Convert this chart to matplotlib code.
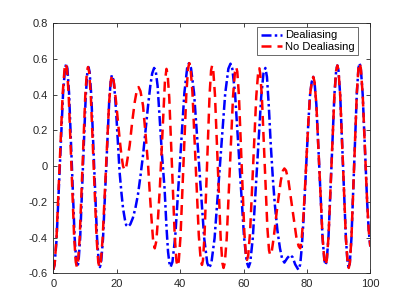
import matplotlib
matplotlib.use("Agg")
import matplotlib.pyplot as plt

plt.rcParams['font.family'] = ['Liberation Sans', 'DejaVu Sans']

# Dealiasing (blue, dash-dot)
blue_x = [0, 0.41, 1.03, 2.05, 3.08, 3.69, 4.1,
          4.45, 4.98, 5.85, 6.73, 7.25, 7.6,
          7.95, 8.48, 9.35, 10.23, 10.75, 11.1,
          11.46, 12.0, 12.9, 13.8, 14.34, 14.7,
          15.09, 15.68, 16.65, 17.63, 18.15, 18.5,
          19.0, 19.5, 20.0, 20.5, 20.9, 21.5, 22.0, 22.6, 23.0, 23.6,
          24.3, 25.1, 25.9, 26.7, 27.5, 28.3, 29.1, 29.9, 30.6, 31.2, 31.8,
          32.3, 32.9, 33.6, 34.3, 35.1, 35.7, 36.2, 36.6, 37.0,
          37.58, 38.45, 39.9, 41.35, 42.22, 42.8,
          43.44, 44.4, 46.0, 47.6, 48.56, 49.2,
          49.87, 50.88, 52.55, 54.23, 55.23, 55.9,
          56.47, 57.33, 58.75, 60.18, 61.03, 61.6,
          62.13, 62.93, 64.25, 65.58, 66.3, 66.9,
          67.4, 68.0, 68.6, 69.3, 69.9, 70.7, 71.5, 72.2, 72.9,
          73.8, 74.7, 75.5, 76.3, 77.3,
          77.9, 78.4, 78.9, 79.4, 79.9, 80.5, 81.0, 81.5, 82.0,
          82.39, 82.98, 83.95, 84.93, 85.51, 85.9,
          86.27, 86.83, 87.75, 88.68, 89.23, 89.6,
          89.96, 90.5, 91.4, 92.3, 92.84, 93.2,
          93.54, 94.05, 94.9, 95.75, 96.26, 96.6,
          97.0, 97.6, 98.3, 99.0, 99.5, 100]
blue_y = [-0.58, -0.552, -0.412, -0.003, 0.406, 0.546, 0.574,
          0.546, 0.408, 0.004, -0.399, -0.537, -0.565,
          -0.538, -0.401, -0.005, 0.391, 0.528, 0.555,
          0.528, 0.391, -0.005, -0.401, -0.538, -0.565,
          -0.538, -0.407, -0.025, 0.36, 0.485, 0.51,
          0.48, 0.39, 0.25, 0.10, -0.03, -0.15, -0.236, -0.30, -0.33, -0.34,
          -0.325, -0.29, -0.235, -0.16, -0.055, 0.06, 0.20, 0.34, 0.45, 0.52, 0.55,
          0.535, 0.45, 0.25, 0.06, -0.125, -0.34, -0.48, -0.54, -0.565,
          -0.537, -0.398, 0.006, 0.41, 0.549, 0.577,
          0.549, 0.41, 0.003, -0.403, -0.542, -0.57,
          -0.542, -0.403, 0.002, 0.407, 0.546, 0.574,
          0.546, 0.408, 0.004, -0.40, -0.538, -0.566,
          -0.539, -0.403, -0.008, 0.387, 0.52, 0.55,
          0.50, 0.33, 0.12, -0.08, -0.218, -0.36, -0.46, -0.52, -0.54,
          -0.515, -0.497, -0.51, -0.55, -0.58,
          -0.55, -0.45, -0.31, -0.13, 0.06, 0.26, 0.40, 0.47, 0.50,
          0.474, 0.346, -0.027, -0.399, -0.527, -0.553,
          -0.526, -0.39, 0.006, 0.401, 0.537, 0.564,
          0.536, 0.398, -0.003, -0.404, -0.542, -0.57,
          -0.542, -0.403, 0.004, 0.41, 0.549, 0.577,
          0.55, 0.40, 0.10, -0.20, -0.36, -0.45]

# No Dealiasing (red, dashed)
red_x = [0, 0.4, 0.99, 1.98, 2.96, 3.56, 3.95,
         4.3, 4.83, 5.7, 6.58, 7.1, 7.45,
         7.8, 8.33, 9.2, 10.08, 10.6, 10.95,
         11.31, 11.85, 12.75, 13.65, 14.19, 14.55,
         14.96, 15.56, 16.58, 17.59, 18.2, 18.6,
         19.2, 19.8, 20.4, 21.0, 21.5, 22.0, 22.5, 23.0, 23.5, 24.1,
         24.9, 25.7, 26.3, 26.9, 27.5, 28.3, 29.1, 29.9, 30.4, 30.9,
         31.5, 32.0, 32.5, 33.0, 33.6, 34.1, 34.6, 35.2, 35.7,
         36.05, 36.58, 37.45, 38.33, 38.85, 39.2,
         39.57, 40.13, 41.05, 41.98, 42.53, 42.9,
         43.3, 43.9, 44.9, 45.9, 46.5, 46.9,
         47.22, 47.7, 48.5, 49.3, 49.78, 50.1,
         50.46, 51.0, 51.9, 52.8, 53.34, 53.7,
         54.1, 54.7, 55.7, 56.7, 57.3, 57.7,
         58.04, 58.55, 59.4, 60.25, 60.76, 61.1,
         61.49, 62.08, 63.05, 64.03, 64.61, 65.0,
         65.25, 65.78, 66.65, 67.53, 68.05, 68.4,
         68.85, 69.53, 70.65, 71.78, 72.45, 72.9,
         73.4, 74.15, 75.4, 76.65, 77.4, 77.9,
         78.3, 78.9, 79.4, 79.9, 80.5, 81.0, 81.5, 82.0,
         82.39, 82.98, 83.95, 84.93, 85.51, 85.9,
         86.27, 86.83, 87.75, 88.68, 89.23, 89.6,
         89.96, 90.5, 91.4, 92.3, 92.84, 93.2,
         93.54, 94.05, 94.9, 95.75, 96.26, 96.6,
         97.0, 97.6, 98.3, 99.0, 99.5, 100]
red_y = [-0.58, -0.552, -0.412, -0.003, 0.406, 0.546, 0.574,
         0.546, 0.408, 0.004, -0.399, -0.537, -0.565,
         -0.538, -0.401, -0.005, 0.391, 0.528, 0.555,
         0.528, 0.391, -0.005, -0.401, -0.538, -0.565,
         -0.539, -0.407, -0.028, 0.352, 0.485, 0.51,
         0.46, 0.36, 0.248, 0.14, 0.06, 0.0, -0.022, -0.005, 0.05, 0.117,
         0.25, 0.36, 0.42, 0.443, 0.42, 0.34, 0.18, 0.006, -0.14, -0.274,
         -0.42, -0.46, -0.42, -0.30, -0.125, 0.06, 0.248, 0.47, 0.545,
         0.518, 0.384, -0.008, -0.399, -0.532, -0.56,
         -0.532, -0.394, 0.009, 0.411, 0.549, 0.577,
         0.549, 0.412, 0.012, -0.388, -0.525, -0.553,
         -0.526, -0.39, 0.006, 0.401, 0.537, 0.564,
         0.536, 0.398, -0.003, -0.404, -0.542, -0.57,
         -0.542, -0.406, -0.008, 0.391, 0.527, 0.555,
         0.529, 0.397, 0.015, -0.367, -0.499, -0.525,
         -0.499, -0.368, 0.012, 0.391, 0.522, 0.548,
         0.522, 0.395, 0.026, -0.344, -0.471, -0.497,
         -0.485, -0.40, -0.23, -0.08, -0.025, -0.013,
         -0.024, -0.078, -0.237, -0.395, -0.449, -0.46,
         -0.42, -0.28, -0.12, 0.06, 0.26, 0.40, 0.47, 0.50,
         0.474, 0.346, -0.027, -0.399, -0.527, -0.553,
         -0.526, -0.39, 0.006, 0.401, 0.537, 0.564,
         0.536, 0.398, -0.003, -0.404, -0.542, -0.57,
         -0.542, -0.403, 0.004, 0.41, 0.549, 0.577,
         0.55, 0.40, 0.10, -0.20, -0.36, -0.45]

series_labels = ["Dealiasing", "No Dealiasing"]
x_ticks = [0, 20, 40, 60, 80, 100]
y_ticks = [-0.6, -0.4, -0.2, 0, 0.2, 0.4, 0.6, 0.8]
y_tick_labels = ["-0.6", "-0.4", "-0.2", "0", "0.2", "0.4", "0.6", "0.8"]

fig = plt.figure(figsize=(4.09, 3.07), dpi=100)
ax = fig.add_axes([0.1303, 0.1098, 0.7751, 0.8142])

ax.plot(blue_x, blue_y, color=(0, 0, 1), lw=1.8, linestyle=(0, (4.0, 1.3, 1.0, 1.3)),
        label=series_labels[0])
ax.plot(red_x, red_y, color=(1, 0, 0), lw=1.8, linestyle=(0, (4.0, 2.4)),
        label=series_labels[1])

ax.set_xlim(0, 100)
ax.set_ylim(-0.6, 0.8)
ax.set_xticks(x_ticks)
ax.set_yticks(y_ticks)
ax.set_yticklabels(y_tick_labels)

axc = '#262626'
for s in ax.spines.values():
    s.set_color(axc)
    s.set_linewidth(0.6)
ax.tick_params(direction='in', length=3, width=0.6, color=axc, labelcolor=axc,
               labelsize=8, top=True, right=True, pad=4)

leg = ax.legend(loc='upper right', bbox_to_anchor=(0.961, 0.985), borderaxespad=0,
                fontsize=8, frameon=True, fancybox=False, handlelength=1.9,
                handletextpad=0.3, borderpad=0.3, labelspacing=0.15)
leg.get_frame().set_edgecolor(axc)
leg.get_frame().set_linewidth(0.6)

fig.savefig("out.png", dpi=100)
